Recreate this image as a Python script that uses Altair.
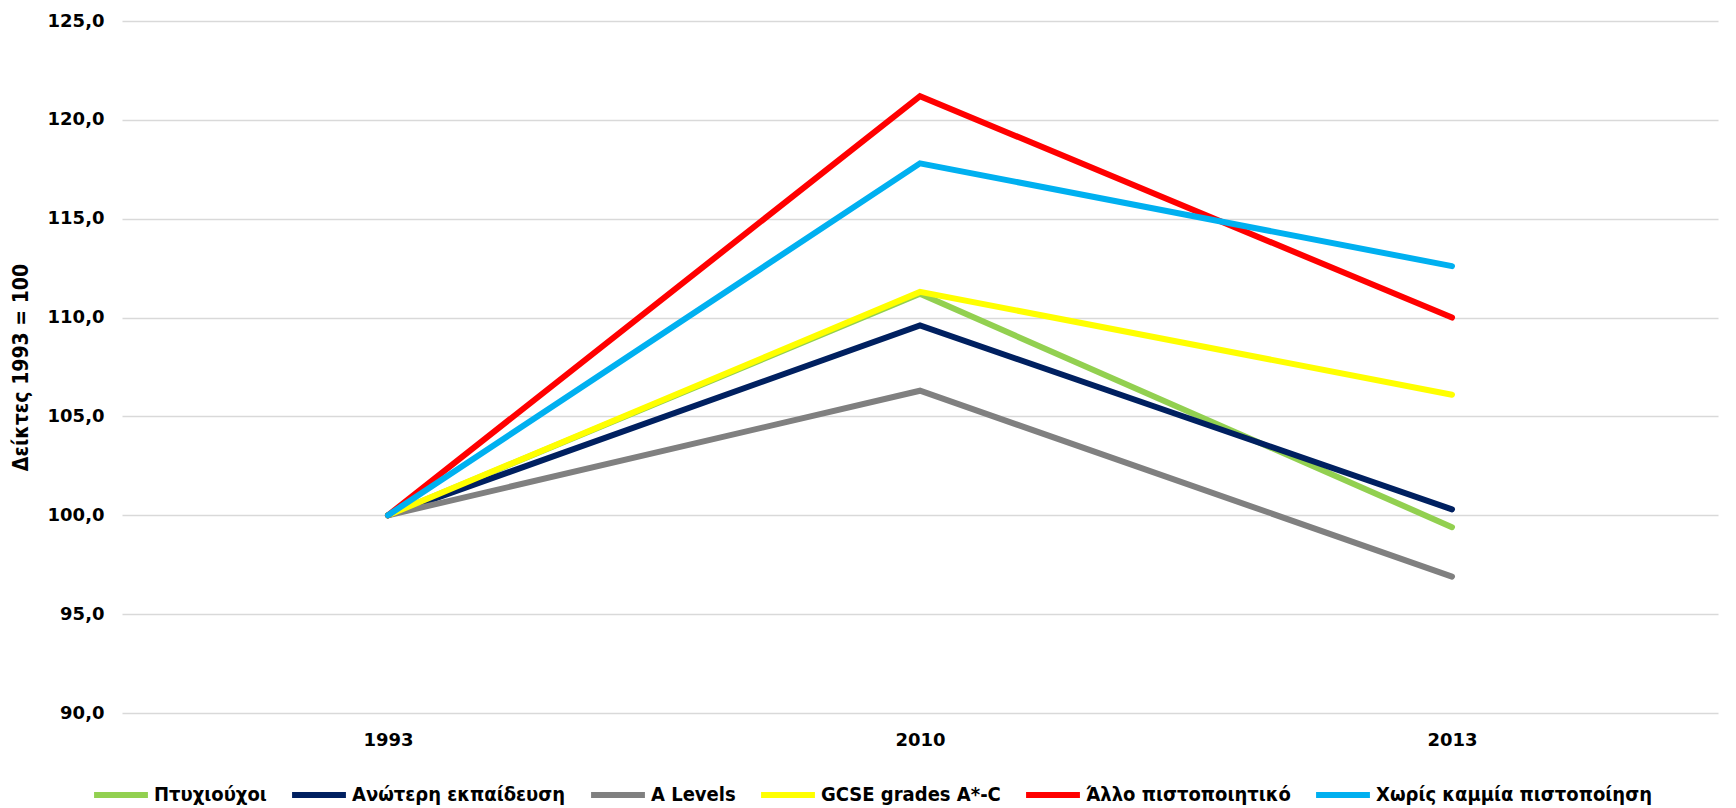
import altair as alt
import pandas as pd

years = ["1993", "2010", "2013"]
series = ["Πτυχιούχοι", "Ανώτερη εκπαίδευση", "A Levels", "GCSE grades A*-C",
          "Άλλο πιστοποιητικό", "Χωρίς καμμία πιστοποίηση"]
colors = ["#92D050", "#002060", "#808080", "#FFFF00", "#FF0000", "#00B0F0"]
values = {
    "Πτυχιούχοι": [100.0, 111.2, 99.4],
    "Ανώτερη εκπαίδευση": [100.0, 109.6, 100.3],
    "A Levels": [100.0, 106.3, 96.9],
    "GCSE grades A*-C": [100.0, 111.3, 106.1],
    "Άλλο πιστοποιητικό": [100.0, 121.2, 110.0],
    "Χωρίς καμμία πιστοποίηση": [100.0, 117.8, 112.6],
}

rows = []
for i, s in enumerate(series):
    for y, v in zip(years, values[s]):
        rows.append({"series": s, "order": i, "year": y, "value": v})
df = pd.DataFrame(rows)

tick_font = "DejaVu Sans"
cond_font = "DejaVu Sans Condensed"

chart = alt.Chart(df).mark_line(
    strokeWidth=6, strokeCap="round", strokeJoin="miter"
).encode(
    x=alt.X("year:O", sort=years,
            scale=alt.Scale(type="point", padding=0.5),
            axis=alt.Axis(title=None, labelAngle=0, domain=False, ticks=False,
                          labelFont=tick_font, labelFontSize=18, labelFontWeight="bold",
                          labelColor="#000000", labelPadding=18)),
    y=alt.Y("value:Q",
            scale=alt.Scale(domain=[90, 125], nice=False, zero=False),
            axis=alt.Axis(title="Δείκτες 1993 = 100", values=[90, 95, 100, 105, 110, 115, 120, 125],
                          labelExpr="replace(format(datum.value, '.1f'), '.', ',')",
                          domain=False, ticks=False, grid=True, gridColor="#D9D9D9", gridWidth=1.5,
                          labelFont=tick_font, labelFontSize=18, labelFontWeight="bold",
                          labelColor="#000000", labelPadding=18,
                          titleFont=cond_font, titleFontSize=21, titleFontWeight="bold",
                          titleColor="#000000", titlePadding=16)),
    color=alt.Color("series:N", sort=series,
                    scale=alt.Scale(domain=series, range=colors),
                    legend=alt.Legend(title=None, orient="none", legendX=-31, legendY=744,
                                      direction="horizontal", symbolType="stroke",
                                      symbolStrokeWidth=6, symbolSize=2900,
                                      labelFont=cond_font, labelFontSize=20,
                                      labelFontWeight="bold", labelColor="#000000",
                                      columnPadding=13, labelOffset=3, labelLimit=400)),
    order=alt.Order("order:Q"),
    detail="series:N",
).properties(
    width=1596, height=692,
    autosize=alt.AutoSizeParams(type="none"),
    padding={"left": 114, "top": 13, "right": 5, "bottom": 92},
).configure_view(stroke=None)

chart.save("out.html", embed_options={"renderer": "svg", "actions": False})
